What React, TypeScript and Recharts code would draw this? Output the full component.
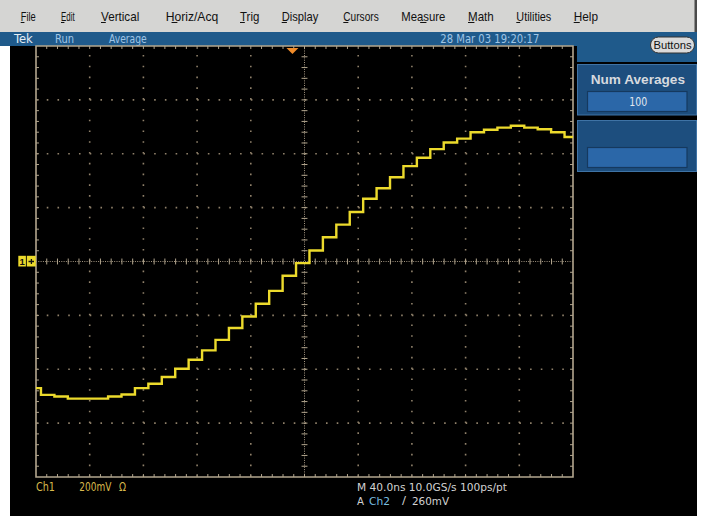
import React from 'react';
import { LineChart, Line, XAxis, YAxis, ReferenceLine, ReferenceArea, ReferenceDot } from 'recharts';

// Ch1 staircase trace: time (ns) where each DAC step begins, and its level (mV)
const stepStartNs = [0, 3.7, 13.7, 23.7, 33.7, 43.7, 53.7, 63.7, 73.7, 83.7, 93.7, 103.7, 113.7, 123.7, 133.7, 143.7, 153.7, 163.7, 173.7, 183.7, 193.7, 203.7, 213.7, 223.7, 233.7, 243.7, 253.7, 263.7, 273.7, 283.7, 293.7, 303.7, 313.7, 323.7, 333.7, 343.7, 353.7, 363.7, 373.7, 383.7, 393.7, 400];
const stepLevelMv = [-470, -495, -501, -509, -509, -509, -501, -494, -470, -454, -429, -398, -365, -330, -291, -247, -204, -157, -109, -53, -6, 41, 90, 137, 184, 233, 272, 313, 354, 385, 417, 442, 456, 480, 489, 497, 504, 497, 491, 480, 462, 462];

// Graticule: 10 horizontal divisions of 40 ns, 8 vertical divisions of 200 mV
const divTimeNs = [0, 40, 80, 120, 160, 200, 240, 280, 320, 360, 400];
const divVoltMv = [-800, -600, -400, -200, 0, 200, 400, 600, 800];
const triggerTimeNs = 191;

const menuLabels = ['File', 'Edit', 'Vertical', 'Horiz/Acq', 'Trig', 'Display', 'Cursors', 'Measure', 'Math', 'Utilities', 'Help'];
const menuUnderline = [0, 0, 0, 1, 0, 0, 0, 3, 0, 0, 0];

const trace = stepStartNs.map((t, i) => ({ t, v: stepLevelMv[i] }));

// layout of chrome (pixels)
const menuX = [20.7, 61, 101, 165.7, 240, 281.7, 343.3, 401.3, 468, 516.3, 573.7];
const menuW = [15, 13.7, 38.3, 52.6, 19.3, 36.6, 35.4, 44, 25.7, 35, 24.3];

const minorT: number[] = [];
for (let i = 1; i < 50; i++) minorT.push(i * 8);
const minorV: number[] = [];
for (let i = -19; i <= 19; i++) if (i !== 0) minorV.push(i * 40);

const DOT = '#8f806a';
const GRAT = '#b3a68e';
const YEL = '#ecda2c';
const SCOPE_FONT = '"Liberation Sans Narrow", "DejaVu Sans Condensed", "Liberation Sans", sans-serif';
const UI_FONT = '"Liberation Sans", Arial, sans-serif';

function T(p: { x: number; y: number; w: number; s: number; c: string; f?: string; b?: boolean; children: any }) {
  return (
    <text x={p.x} y={p.y} textLength={p.w} lengthAdjust="spacingAndGlyphs" fontSize={p.s} fill={p.c}
      fontFamily={p.f || SCOPE_FONT} fontWeight={p.b ? 'bold' : 'normal'}>{p.children}</text>
  );
}

const TrigShape = (props: any) => {
  const { cx, cy } = props;
  if (cx == null || cy == null) return <g />;
  return <path d={`M${cx - 6},${cy + 2} L${cx + 6},${cy + 2} L${cx},${cy + 8} Z`} fill="#f08c2a" />;
};

const Ch1Marker = (props: any) => {
  const { cx, cy } = props;
  if (cx == null || cy == null) return <g />;
  return (
    <g>
      <rect x={cx - 17.7} y={cy - 5.7} width={7.6} height={10.7} fill={YEL} />
      <rect x={cx - 9.2} y={cy - 5.7} width={9} height={10.7} fill={YEL} />
      <text x={cx - 13.9} y={cy + 3.6} fontSize={9.5} textAnchor="middle" fill="#111" fontFamily={UI_FONT} fontWeight="bold">1</text>
      <path d={`M${cx - 7.5},${cy} L${cx - 2},${cy} M${cx - 4.6},${cy - 2.6} L${cx - 4.6},${cy + 2.6}`} stroke="#111" strokeWidth={1.3} />
    </g>
  );
};

export default function App() {
  return (
    <div style={{ position: 'absolute', left: 0, top: 0, width: 704, height: 516, background: '#fff', overflow: 'hidden' }}>
      <svg width={704} height={516} style={{ position: 'absolute', left: 0, top: 0 }}>
        {/* screen background */}
        <rect x={10} y={46} width={687} height={470} fill="#000" />
        {/* menu bar */}
        <rect x={0} y={0} width={697} height={32} fill="#d5d5d3" />
        <rect x={694.5} y={0} width={2.5} height={32} fill="#4a4a4a" />
        {menuLabels.map((lab, i) => {
          const u = menuUnderline[i];
          const cw = menuW[i] / lab.length;
          return (
            <g key={lab}>
              <text x={menuX[i]} y={20.5} textLength={menuW[i]} lengthAdjust="spacingAndGlyphs"
                fontSize={13} fill="#111" fontFamily={UI_FONT}>{lab}</text>
              <line x1={menuX[i] + cw * u} x2={menuX[i] + cw * (u + 1)} y1={22.5} y2={22.5} stroke="#111" strokeWidth={1} />
            </g>
          );
        })}
        {/* status bar */}
        <rect x={0} y={32} width={697} height={14} fill="#1f5a8b" />
        <T x={14} y={42.5} w={18.7} s={11.5} c="#e4ecf4">Tek</T>
        <T x={55} y={42.5} w={19} s={11.5} c="#9fc5e6">Run</T>
        <T x={109} y={42.5} w={37.7} s={11.5} c="#9fc5e6">Average</T>
        <T x={440.3} y={42.5} w={99} s={11.5} c="#9fc5e6">28 Mar 03 19:20:17</T>
        {/* right panel */}
        <rect x={577} y={46} width={120} height={16} fill="#1f5a8b" />
        <rect x={650.5} y={37} width={44} height={16} rx={8} fill="#dadada" stroke="#333" strokeWidth={1} />
        <T x={653.5} y={49} w={38} s={11.5} c="#111" f={UI_FONT}>Buttons</T>
        <rect x={577.5} y={64.5} width={119} height={50.5} fill="#1d4e7e" stroke="#3f73a5" strokeWidth={1} />
        <T x={590.7} y={84} w={94.3} s={13.5} c="#d6dade" b f={UI_FONT}>Num Averages</T>
        <rect x={587.5} y={91.5} width={99.5} height={20} fill="#2b67a8" stroke="#15395f" strokeWidth={1.2} />
        <T x={629.3} y={105.7} w={18} s={11.5} c="#e2e8ef">100</T>
        <rect x={577.5} y={120.5} width={119} height={51} fill="#1d4e7e" stroke="#3f73a5" strokeWidth={1} />
        <rect x={587.5} y={147.5} width={99.5} height={20} fill="#2b67a8" stroke="#15395f" strokeWidth={1.2} />
        {/* bottom readouts */}
        <T x={36} y={491} w={19} s={12.5} c="#d9b94c">Ch1</T>
        <T x={79.3} y={491} w={32} s={12.5} c="#d9b94c">200mV</T>
        <T x={119} y={491} w={7} s={12.5} c="#d9b94c">Ω</T>
        <T x={357} y={491} w={150} s={11} c="#d2d2d2">M 40.0ns 10.0GS/s 100ps/pt</T>
        <T x={357} y={505} w={7} s={11} c="#d2d2d2">A</T>
        <T x={369} y={505} w={21} s={11} c="#78bfe0">Ch2</T>
        <T x={402} y={504} w={4} s={10} c="#d2d2d2">/</T>
        <T x={412} y={505} w={37} s={11} c="#d2d2d2">260mV</T>
      </svg>
      <div style={{ position: 'absolute', left: 0, top: 0 }}>
        <LineChart width={704} height={516} data={trace} margin={{ top: 46, right: 131, bottom: 39, left: 36 }}>
          <XAxis dataKey="t" type="number" domain={[0, 400]} hide allowDataOverflow />
          <YAxis type="number" domain={[-800, 800]} hide allowDataOverflow />
          {divTimeNs.filter((t) => t !== 0 && t !== 400 && t !== 200).map((t) => (
            <ReferenceLine key={'gx' + t} x={t} stroke={DOT} strokeWidth={1.6} strokeDasharray="1.6 9.18" />
          ))}
          {divVoltMv.filter((v) => v !== -800 && v !== 800 && v !== 0).map((v) => (
            <ReferenceLine key={'gy' + v} y={v} stroke={DOT} strokeWidth={1.6} strokeDasharray="1.6 9.14" />
          ))}
          <ReferenceLine x={200} stroke="#a29580" strokeWidth={1} strokeDasharray="1 1.3" />
          <ReferenceLine y={0} stroke="#a29580" strokeWidth={1} strokeDasharray="1 1.3" />
          {minorT.filter((t) => t !== 200).map((t) => (
            <ReferenceLine key={'ct' + t} segment={[{ x: t, y: -11 }, { x: t, y: 11 }]} stroke={GRAT} strokeWidth={1} />
          ))}
          {minorV.map((v) => (
            <ReferenceLine key={'cv' + v} segment={[{ x: 197.8, y: v }, { x: 202.2, y: v }]} stroke={GRAT} strokeWidth={1} />
          ))}
          {minorT.map((t) => (
            <ReferenceLine key={'bt' + t} segment={[{ x: t, y: -800 }, { x: t, y: -789 }]} stroke={GRAT} strokeWidth={1} />
          ))}
          {minorT.map((t) => (
            <ReferenceLine key={'tt' + t} segment={[{ x: t, y: 800 }, { x: t, y: 789 }]} stroke={GRAT} strokeWidth={1} />
          ))}
          {minorV.map((v) => (
            <ReferenceLine key={'lv' + v} segment={[{ x: 0, y: v }, { x: 2.2, y: v }]} stroke={GRAT} strokeWidth={1} />
          ))}
          {minorV.map((v) => (
            <ReferenceLine key={'rv' + v} segment={[{ x: 400, y: v }, { x: 397.8, y: v }]} stroke={GRAT} strokeWidth={1} />
          ))}
          <ReferenceArea x1={0} x2={400} y1={-800} y2={800} fill="none" stroke={GRAT} strokeWidth={1.6} />
          <Line type="stepAfter" dataKey="v" stroke={YEL} strokeWidth={2.4} dot={false} isAnimationActive={false} />
          <ReferenceDot x={triggerTimeNs} y={800} r={0} shape={TrigShape} ifOverflow="visible" />
          <ReferenceDot x={0} y={0} r={0} shape={Ch1Marker} ifOverflow="visible" />
        </LineChart>
      </div>
    </div>
  );
}
